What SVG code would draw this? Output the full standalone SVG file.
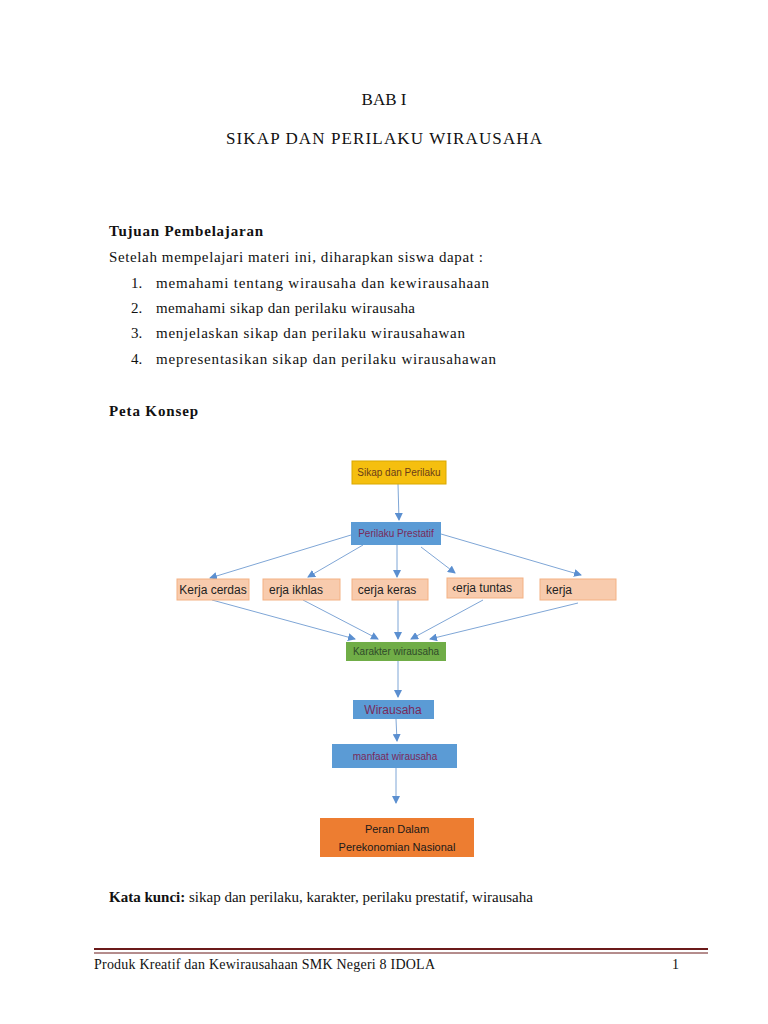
<svg xmlns="http://www.w3.org/2000/svg" width="768" height="1024" viewBox="0 0 768 1024">
<style>
.t{font-family:"Liberation Serif",serif;font-size:15px;fill:#111}
.b{font-weight:bold}
.n{font-family:"Liberation Sans",sans-serif;font-size:10px;fill:#7a2a5a;text-anchor:middle}
.k{font-family:"Liberation Sans",sans-serif;font-size:12px;fill:#222;text-anchor:middle}
.c line{stroke:#7fa6d6;stroke-width:1}
</style>
<defs><marker id="a" markerWidth="8" markerHeight="8" refX="7" refY="4" orient="auto" markerUnits="userSpaceOnUse"><path d="M0,0 L8,4 L0,8 z" fill="#5b8fd0"/></marker></defs>
<rect width="768" height="1024" fill="#fff"/>
<text class="t" x="384" y="105" text-anchor="middle" style="font-size:17px">BAB I</text>
<text class="t" x="384" y="144" text-anchor="middle" style="font-size:17px" textLength="316">SIKAP DAN PERILAKU WIRAUSAHA</text>
<text class="t b" x="109" y="236" textLength="154">Tujuan Pembelajaran</text>
<text class="t" x="109" y="262" textLength="374">Setelah mempelajari materi ini, diharapkan siswa dapat :</text>
<text class="t" x="131" y="288">1.</text><text class="t" x="156" y="288" textLength="333">memahami tentang wirausaha dan kewirausahaan</text>
<text class="t" x="131" y="313">2.</text><text class="t" x="156" y="313" textLength="259">memahami sikap dan perilaku wirausaha</text>
<text class="t" x="131" y="338">3.</text><text class="t" x="156" y="338" textLength="309">menjelaskan sikap dan perilaku wirausahawan</text>
<text class="t" x="131" y="364">4.</text><text class="t" x="156" y="364" textLength="340">mepresentasikan sikap dan perilaku wirausahawan</text>
<text class="t b" x="109" y="416" textLength="89">Peta Konsep</text>
<g class="c" fill="none">
<line x1="398" y1="484" x2="399" y2="520" marker-end="url(#a)"/>
<line x1="351" y1="535" x2="210" y2="578" marker-end="url(#a)"/>
<line x1="363" y1="545" x2="308" y2="577" marker-end="url(#a)"/>
<line x1="397" y1="545" x2="397" y2="577" marker-end="url(#a)"/>
<line x1="421" y1="547" x2="455" y2="573" marker-end="url(#a)"/>
<line x1="441" y1="534" x2="581" y2="575" marker-end="url(#a)"/>
<line x1="212" y1="600" x2="355" y2="639" marker-end="url(#a)"/>
<line x1="303" y1="600" x2="378" y2="639" marker-end="url(#a)"/>
<line x1="398" y1="600" x2="398" y2="639" marker-end="url(#a)"/>
<line x1="483" y1="600" x2="411" y2="639" marker-end="url(#a)"/>
<line x1="578" y1="603" x2="430" y2="639" marker-end="url(#a)"/>
<line x1="398" y1="661" x2="398" y2="697" marker-end="url(#a)"/>
<line x1="396" y1="719" x2="397" y2="741" marker-end="url(#a)"/>
<line x1="396" y1="768" x2="396" y2="803" marker-end="url(#a)"/>
</g>
<g id="sikap"><rect x="352" y="461" width="94" height="23" fill="#f5bf0f" stroke="#d9a800"/><text class="n" x="399" y="476" fill="#5a3a1a" style="fill:#6a3d1a">Sikap dan Perilaku</text></g>
<g id="prestatif"><rect x="351" y="522" width="90" height="23" fill="#5b9bd5"/><text class="n" x="396" y="537">Perilaku Prestatif</text></g>
<g id="cerdas"><rect x="177" y="579" width="72" height="21" fill="#f8cbad" stroke="#f4b183"/><text class="k" x="213" y="594">Kerja cerdas</text></g>
<g id="ikhlas"><rect x="263" y="579" width="77" height="21" fill="#f8cbad" stroke="#f4b183"/><text class="k" x="296" y="594">erja ikhlas</text></g>
<g id="keras"><rect x="352" y="579" width="76" height="21" fill="#f8cbad" stroke="#f4b183"/><text class="k" x="387" y="594">cerja keras</text></g>
<g id="tuntas"><rect x="447" y="578" width="76" height="20" fill="#f8cbad" stroke="#f4b183"/><text class="k" x="482" y="592">‹erja tuntas</text></g>
<g id="kerja"><rect x="540" y="579" width="76" height="21" fill="#f8cbad" stroke="#f4b183"/><text class="k" x="559" y="594">kerja</text></g>
<g id="karakter"><rect x="346" y="642" width="100" height="19" fill="#70ad47"/><text class="n" x="396" y="655" style="fill:#2f4a2a">Karakter wirausaha</text></g>
<g id="wirausaha"><rect x="353" y="700" width="81" height="19" fill="#5b9bd5"/><text class="n" x="393" y="714" style="font-size:12px">Wirausaha</text></g>
<g id="manfaat"><rect x="332" y="744" width="125" height="24" fill="#5b9bd5"/><text class="n" x="395" y="760">manfaat wirausaha</text></g>
<g id="peran"><rect x="320" y="818" width="154" height="39" fill="#ed7d31"/><text class="k" x="397" y="833" style="font-size:11px;fill:#1a1a1a">Peran Dalam</text><text class="k" x="397" y="851" style="font-size:11px;fill:#1a1a1a">Perekonomian Nasional</text></g>
<text class="t" x="109" y="902"><tspan class="b">Kata kunci:</tspan> sikap dan perilaku, karakter, perilaku prestatif, wirausaha</text>
<line x1="94" y1="949" x2="708" y2="949" stroke="#6b1a1a" stroke-width="2"/>
<line x1="94" y1="953" x2="708" y2="953" stroke="#6b1a1a" stroke-width="1"/>
<text class="t" x="94" y="969" style="font-size:14px" textLength="341">Produk Kreatif dan Kewirausahaan SMK Negeri 8 IDOLA</text>
<text class="t" x="672" y="969" style="font-size:14px">1</text>
</svg>
